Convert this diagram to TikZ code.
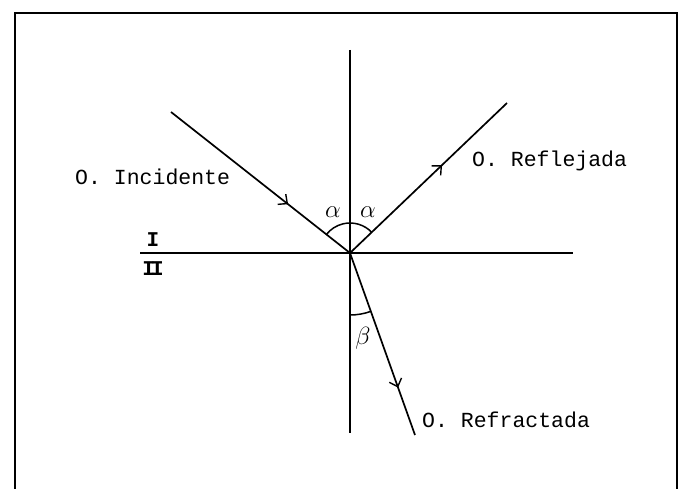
\documentclass[tikz,border=0pt]{standalone}
\usepackage{fontspec}
\setmonofont{Liberation Mono}
\usetikzlibrary{arrows.meta,decorations.markings,calc}
\tikzset{
  ray/.style={line width=1.7pt},
  axisline/.style={line width=1.3pt},
  lbl/.style={inner sep=0pt, font=\fontsize{21.5}{24}\selectfont\ttfamily},
  greek/.style={inner sep=0pt, font=\fontsize{25}{27}\selectfont},
  medium/.style={inner sep=0pt, font=\fontsize{21}{23}\selectfont\ttfamily\bfseries},
  midarrow/.style={postaction={decorate}, decoration={markings,
     mark=at position #1 with {\arrow{Straight Barb[length=7pt,width=13pt,line width=1.4pt]}}}}
}
\begin{document}
\begin{tikzpicture}[x=1pt,y=-1pt]
\useasboundingbox (0,0) rectangle (681,489);
% frame (bottom open)
\draw[line width=1.9pt] (15,492) -- (15,13) -- (677,13) -- (677,492);
% points
\coordinate (O) at (350,253);
\coordinate (inc) at (171,112);
\coordinate (refl) at (507,103);
\coordinate (refr) at (415,435);
\coordinate (ntop) at (350,50);
\coordinate (nbot) at (350,433);
\coordinate (hl) at (140,253);
\coordinate (hr) at (573,253);
% normal and interface
\draw[axisline] (ntop) -- (nbot);
\draw[axisline] (hl) -- (hr);
% rays
\draw[ray, midarrow=0.654] (inc) -- (O);
\draw[ray, midarrow=0.586] (O) -- (refl);
\draw[ray, midarrow=0.74] (O) -- (refr);
% angle arcs
\draw[line width=1.5pt] ($(O)+(43.7:30pt)$) arc[start angle=43.7, end angle=141.8, radius=30pt];
\draw[line width=1.5pt] ($(O)+(-90:62pt)$) arc[start angle=-90, end angle=-70.3, radius=62pt];
% labels
\node[lbl, anchor=base west] (tinc) at (75,185) {O. Incidente};
\node[lbl, anchor=base west] (trefl) at (472,167) {O. Reflejada};
\node[lbl, anchor=base west] (trefr) at (422,428) {O. Refractada};
\node[greek] (a1) at (333,212) {$\alpha$};
\node[greek] (a2) at (368,212) {$\alpha$};
\node[greek] (b1) at (363,338) {$\beta$};
\node[medium] (m1) at (153,240) {I};
\node[medium] (m2) at (153,269) {I\kern-4pt I};
\end{tikzpicture}
\end{document}
